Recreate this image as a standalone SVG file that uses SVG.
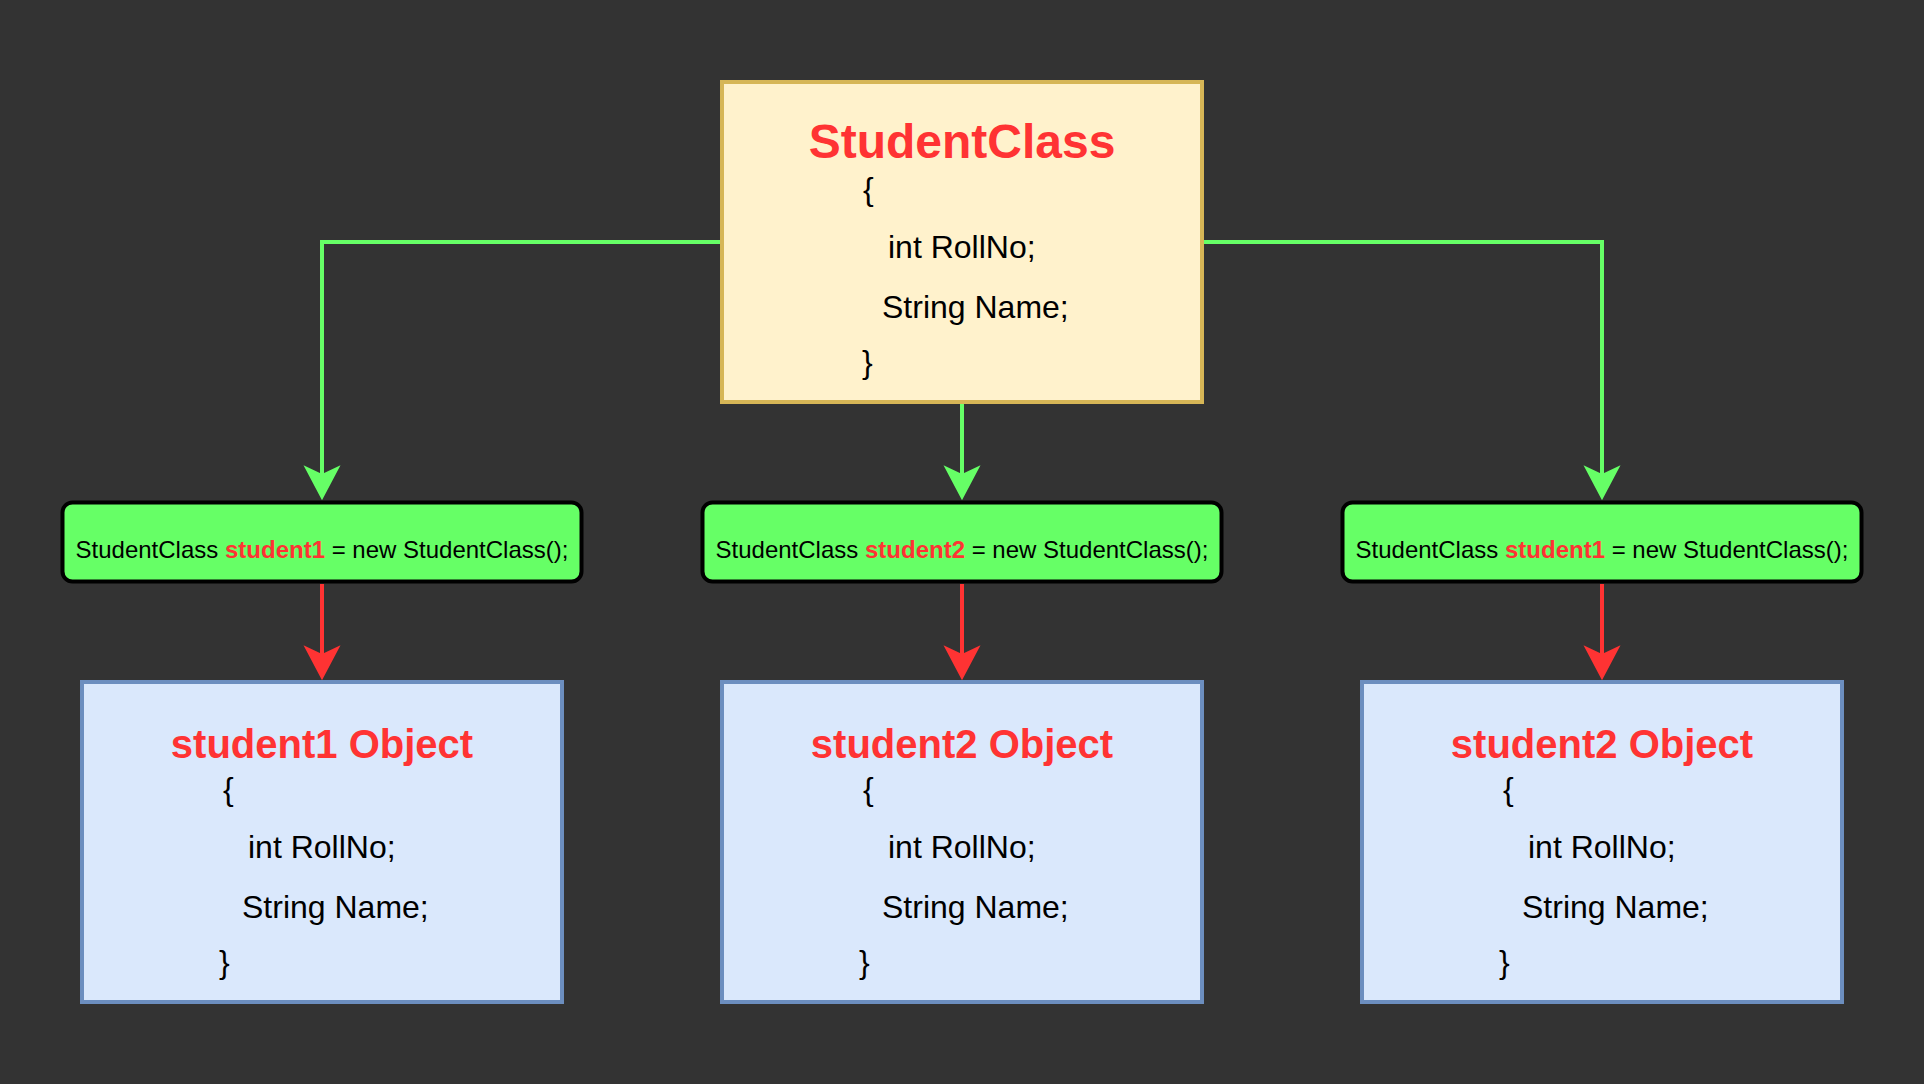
<svg xmlns="http://www.w3.org/2000/svg" width="1924" height="1084" viewBox="0 0 1924 1084">
<style>
  .bg { fill: #333333; }
  .cls { fill: #fff2cc; stroke: #d6b656; stroke-width: 4; }
  .obj { fill: #dae8fc; stroke: #6c8ebf; stroke-width: 4; }
  .ref { fill: #66ff66; stroke: #000000; stroke-width: 4; }
  .t { font-family: "Liberation Sans", Arial, sans-serif; fill: #000000; }
  .body { font-size: 32px; }
  .title { font-size: 48px; font-weight: bold; fill: #ff3333; }
  .otitle { font-size: 40px; font-weight: bold; fill: #ff3333; }
  .code { font-size: 24px; }
  .hl { font-weight: bold; fill: #ff3333; }
  .gline { fill: none; stroke: #66ff66; stroke-width: 4; }
  .rline { fill: none; stroke: #ff3333; stroke-width: 4; }
</style>
<defs>
  <marker id="ag" markerUnits="userSpaceOnUse" markerWidth="36" markerHeight="38" refX="8.75" refY="18.5" orient="auto" overflow="visible">
    <path d="M0,0 L35,18.5 L0,37 L8.75,18.5 Z" fill="#66ff66"/>
  </marker>
  <marker id="ar" markerUnits="userSpaceOnUse" markerWidth="36" markerHeight="38" refX="8.75" refY="18.5" orient="auto" overflow="visible">
    <path d="M0,0 L35,18.5 L0,37 L8.75,18.5 Z" fill="#ff3333"/>
  </marker>
</defs>
<rect class="bg" x="0" y="0" width="1924" height="1084"/>

<g id="connectors">
  <path class="gline" d="M720,242 H322 V474" marker-end="url(#ag)"/>
  <path class="gline" d="M962,404 V474" marker-end="url(#ag)"/>
  <path class="gline" d="M1204,242 H1602 V474" marker-end="url(#ag)"/>
  <path class="rline" d="M322,584 V654" marker-end="url(#ar)"/>
  <path class="rline" d="M962,584 V654" marker-end="url(#ar)"/>
  <path class="rline" d="M1602,584 V654" marker-end="url(#ar)"/>
</g>

<g id="studentClass">
  <rect class="cls" x="722" y="82" width="480" height="320"/>
  <text class="t title" x="962" y="158" text-anchor="middle">StudentClass</text>
  <text class="t body" x="863" y="200">{</text>
  <text class="t body" x="888" y="258">int RollNo;</text>
  <text class="t body" x="882" y="318">String Name;</text>
  <text class="t body" x="862" y="373">}</text>
</g>

<g id="ref1">
  <rect class="ref" x="62.5" y="502.5" width="519" height="79" rx="10" ry="10"/>
  <text class="t code" x="322" y="558" text-anchor="middle">StudentClass <tspan class="hl">student1</tspan> = new StudentClass();</text>
</g>
<g id="ref2">
  <rect class="ref" x="702.5" y="502.5" width="519" height="79" rx="10" ry="10"/>
  <text class="t code" x="962" y="558" text-anchor="middle">StudentClass <tspan class="hl">student2</tspan> = new StudentClass();</text>
</g>
<g id="ref3">
  <rect class="ref" x="1342.5" y="502.5" width="519" height="79" rx="10" ry="10"/>
  <text class="t code" x="1602" y="558" text-anchor="middle">StudentClass <tspan class="hl">student1</tspan> = new StudentClass();</text>
</g>

<g id="obj1">
  <rect class="obj" x="82" y="682" width="480" height="320"/>
  <text class="t otitle" x="322" y="758" text-anchor="middle">student1 Object</text>
  <text class="t body" x="223" y="800">{</text>
  <text class="t body" x="248" y="858">int RollNo;</text>
  <text class="t body" x="242" y="918">String Name;</text>
  <text class="t body" x="219" y="973">}</text>
</g>
<g id="obj2">
  <rect class="obj" x="722" y="682" width="480" height="320"/>
  <text class="t otitle" x="962" y="758" text-anchor="middle">student2 Object</text>
  <text class="t body" x="863" y="800">{</text>
  <text class="t body" x="888" y="858">int RollNo;</text>
  <text class="t body" x="882" y="918">String Name;</text>
  <text class="t body" x="859" y="973">}</text>
</g>
<g id="obj3">
  <rect class="obj" x="1362" y="682" width="480" height="320"/>
  <text class="t otitle" x="1602" y="758" text-anchor="middle">student2 Object</text>
  <text class="t body" x="1503" y="800">{</text>
  <text class="t body" x="1528" y="858">int RollNo;</text>
  <text class="t body" x="1522" y="918">String Name;</text>
  <text class="t body" x="1499" y="973">}</text>
</g>
</svg>
